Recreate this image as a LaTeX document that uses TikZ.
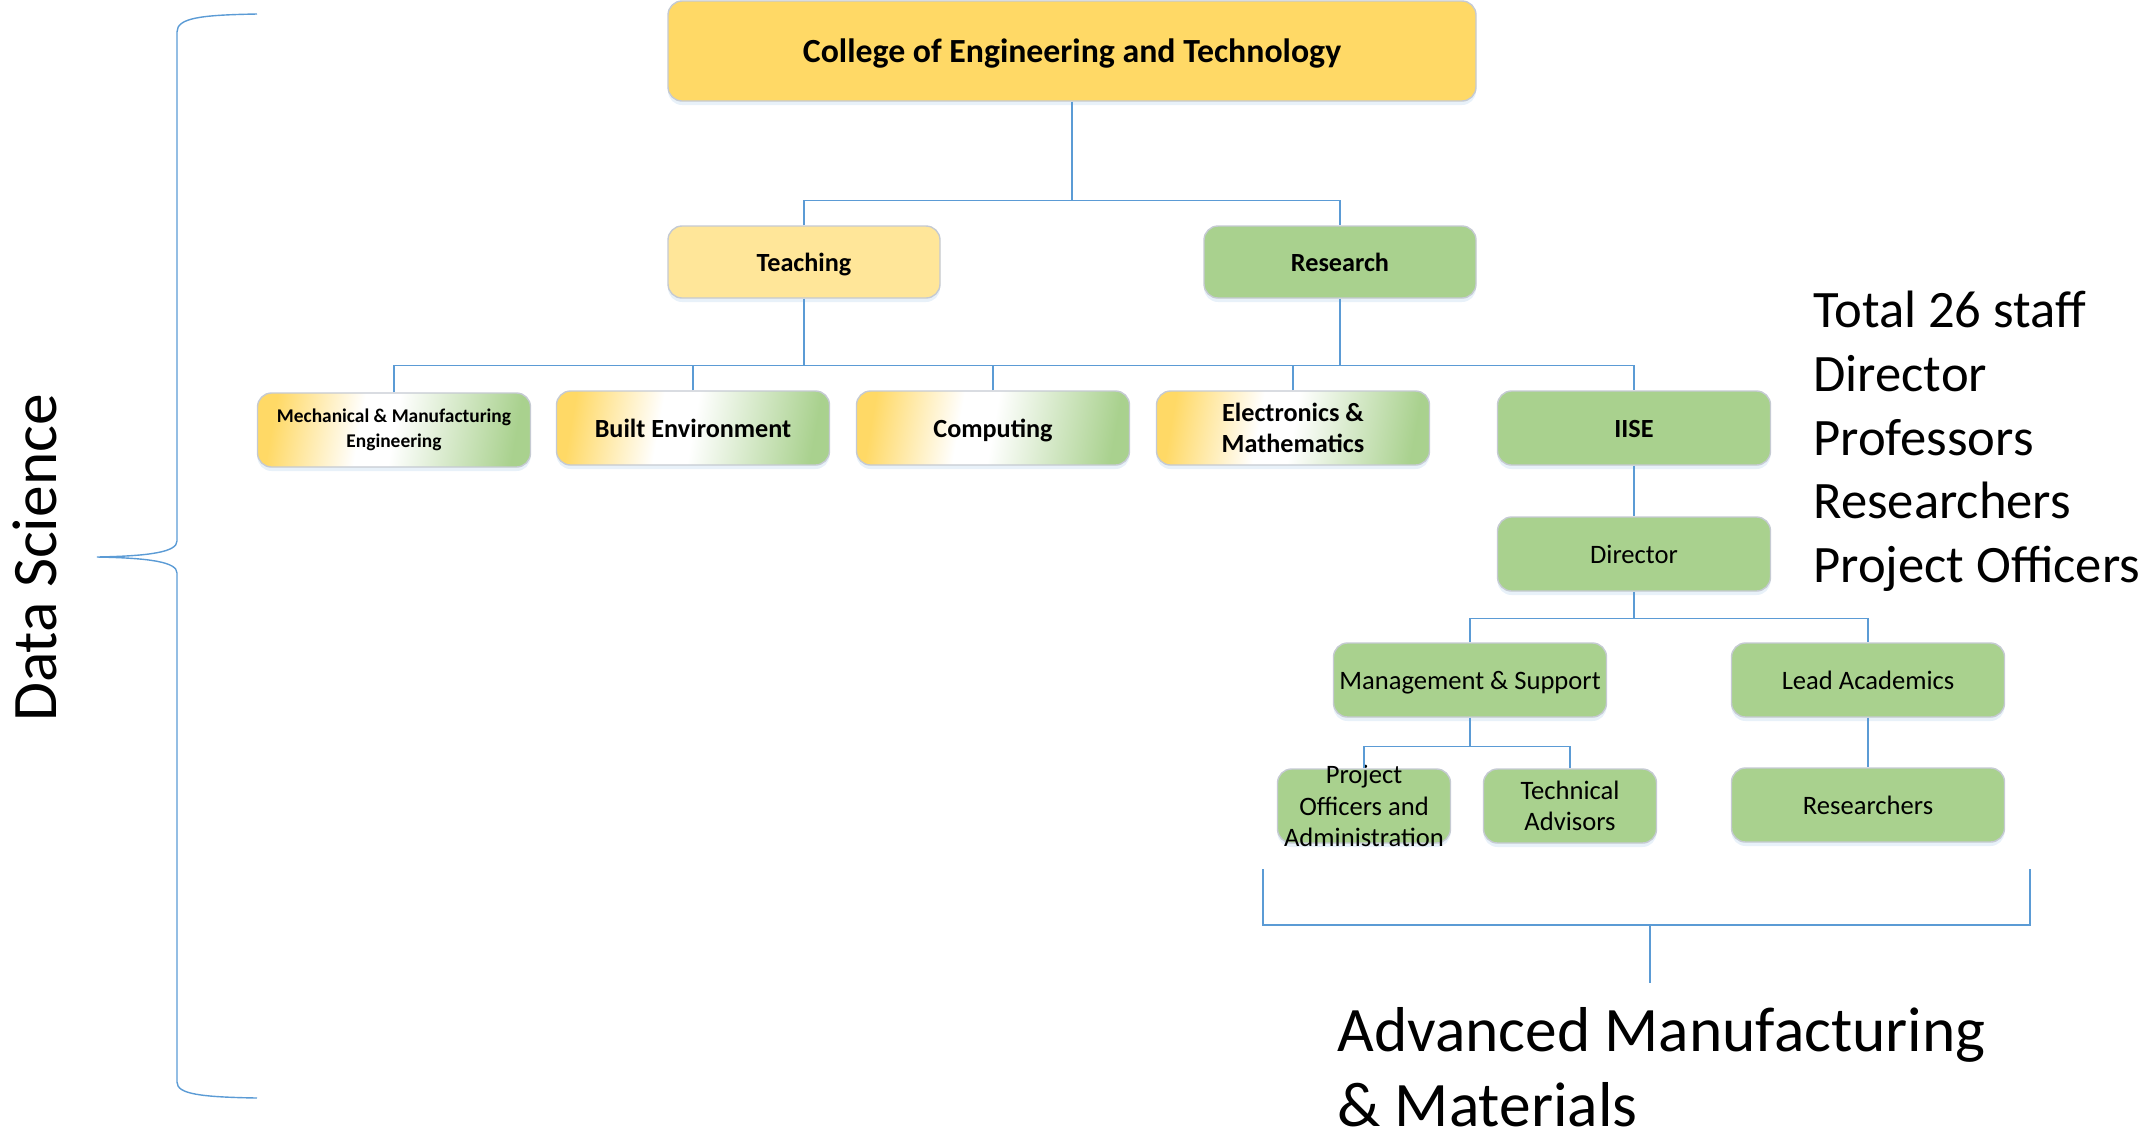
\documentclass[tikz,border=0pt]{standalone}
\usepackage{fontspec}
\setmainfont{Carlito}
\usetikzlibrary{shadows}

\definecolor{gold}{HTML}{FFD966}
\definecolor{palegold}{HTML}{FFE699}
\definecolor{leaf}{HTML}{A9D18E}
\definecolor{wire}{HTML}{5B9BD5}
\definecolor{rim}{HTML}{C5CAD2}

% yellow -> white -> green blend used by the school boxes
\pgfdeclarehorizontalshading{deptshade}{100bp}{%
  color(0bp)=(gold); color(25bp)=(gold); color(43bp)=(white);
  color(50bp)=(white); color(75bp)=(leaf); color(100bp)=(leaf)}

\tikzset{
  wire/.style={draw=wire, line width=0.7pt},
  card/.style={rounded corners=7pt, draw=rim, line width=0.7pt, inner sep=0pt,
    align=center, text=black,
    drop shadow={shadow xshift=0pt, shadow yshift=-2pt, fill=wire!40, opacity=0.35}},
  % single-line labels sit on a fixed box so descenders do not shift them
  oneline/.style={text height=9pt, text depth=0pt},
  topcard/.style={card, text height=11.2pt, text depth=0pt, fill=gold,
    minimum width=404pt, minimum height=50pt,
    font=\fontsize{16.9}{20}\selectfont\bfseries},
  branchcard/.style={card, oneline, minimum width=136pt, minimum height=36pt,
    font=\fontsize{13.1}{15.7}\selectfont\bfseries},
  deptcard/.style={card, shading=deptshade, shading angle=-10,
    minimum width=136.5pt, minimum height=37pt,
    font=\fontsize{13.1}{15.7}\selectfont\bfseries},
  unitcard/.style={card, fill=leaf, minimum width=136.5pt, minimum height=37pt,
    font=\fontsize{13.3}{15.8}\selectfont},
  smallcard/.style={unitcard, minimum width=86.5pt},
  bigtext/.style={font=\fontsize{31.7}{37.5}\selectfont, inner sep=0pt},
  sidetext/.style={font=\fontsize{26.3}{31.8}\selectfont, inner sep=0pt, align=left},
}

\begin{document}
\begin{tikzpicture}[x=0.5pt, y=-0.5pt]
\useasboundingbox (0,0) rectangle (2146,1132);

% college and its two branches
\node[topcard] (college) at (1072,51) {College of Engineering and Technology};
\node[branchcard, fill=palegold] (teaching) at (804,262) {Teaching};
\node[branchcard, fill=leaf] (research) at (1340,262) {Research};

% schools and institute
\node[deptcard, font=\fontsize{9.7}{12.3}\selectfont\bfseries] (mech) at (394,430)
  {Mechanical \& Manufacturing\\Engineering};
\node[deptcard, oneline] (built) at (693,428) {Built Environment};
\node[deptcard, oneline] (computing) at (993,428) {Computing};
\node[deptcard] (elec) at (1293,428) {Electronics \&\\Mathematics};
\node[branchcard, fill=leaf, minimum width=136.5pt, minimum height=37pt] (iise) at (1634,428) {IISE};

% institute structure
\node[unitcard, oneline] (director) at (1634,554) {Director};
\node[unitcard, oneline] (mgmt) at (1470,680) {Management \& Support};
\node[unitcard, oneline] (lead) at (1868,680) {Lead Academics};
\node[smallcard, inner ysep=-5pt] (officers) at (1364,806) {Project\\Officers and\\Administration};
\node[smallcard] (advisors) at (1570,806) {Technical\\Advisors};
\node[unitcard, oneline] (researchers) at (1868,805) {Researchers};

% tree connectors
\path (college.south) ++(0,99) coordinate (topbus);
\draw[wire] (college.south) -- (topbus);
\draw[wire] (teaching.north) |- (topbus) -| (research.north);

\path (teaching.south) ++(0,67) coordinate (deptbus);
\draw[wire] (teaching.south) -- (deptbus);
\draw[wire] (research.south) -- (research.south |- deptbus);
\draw[wire] (mech.north) |- (deptbus) -| (iise.north);
\draw[wire] (built.north) -- (built.north |- deptbus);
\draw[wire] (computing.north) -- (computing.north |- deptbus);
\draw[wire] (elec.north) -- (elec.north |- deptbus);

\draw[wire] (iise.south) -- (director.north);

\path (director.south) ++(0,27) coordinate (dirbus);
\draw[wire] (director.south) -- (dirbus);
\draw[wire] (mgmt.north) |- (dirbus) -| (lead.north);

\path (mgmt.south) ++(0,29) coordinate (mgbus);
\draw[wire] (mgmt.south) -- (mgbus);
\draw[wire] (officers.north) |- (mgbus) -| (advisors.north);

\draw[wire] (lead.south) -- (researchers.north);

% staff summary
\node[sidetext, anchor=north west] (staff) at (1813,291)
  {Total 26 staff\\Director\\Professors\\Researchers\\Project Officers};

% bracket under the institute units
\coordinate (bkl) at (1263,869);
\coordinate (bkr) at (2030,869);
\coordinate (bkm) at (1650,925);
\coordinate (bkstem) at (1650,983);
\draw[wire] (bkl) |- (bkm) -| (bkr);
\draw[wire] (bkm) -- (bkstem);
\node[bigtext, anchor=north west, align=left] (amm) at (1337,1007)
  {Advanced Manufacturing\\\& Materials};

% brace spanning the whole college
\coordinate (brtop) at (257,14);
\coordinate (brtip) at (97,557);
\coordinate (brbot) at (257,1098);
\draw[wire] (brtop) .. controls (200,15) and (177,18) .. (177,32)
  -- (177,541) .. controls (177,552) and (150,556) .. (brtip)
  .. controls (150,558) and (177,562) .. (177,573)
  -- (177,1082) .. controls (177,1094) and (200,1097) .. (brbot);
\node[bigtext, rotate=90, anchor=base] (ds) at (56,558) {Data Science};
\end{tikzpicture}
\end{document}
